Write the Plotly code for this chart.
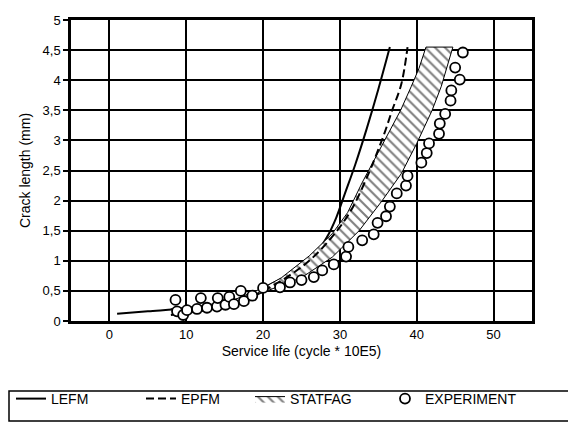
import plotly.graph_objects as go

# ---------------- data ----------------
x_tick_vals = [0, 10, 20, 30, 40, 50]
x_tick_text = ["0", "10", "20", "30", "40", "50"]
y_tick_vals = [0, 0.5, 1, 1.5, 2, 2.5, 3, 3.5, 4, 4.5, 5]
y_tick_text = ["0", "0,5", "1", "1,5", "2", "2,5", "3", "3,5", "4", "4,5", "5"]

lefm_x = [1, 5, 10, 15, 18, 20.7, 23.8, 26.5, 28.3, 29.5, 30.6, 32, 33.5, 35, 36.5]
lefm_y = [0.12, 0.16, 0.21, 0.3, 0.42, 0.59, 0.80, 1.06, 1.39, 1.71, 2.1, 2.6, 3.2, 3.85, 4.55]

epfm_x = [8, 12, 16, 20, 23, 26, 29, 31.5, 33.8, 35, 35.8, 36.8, 38, 38.8]
epfm_y = [0.1, 0.17, 0.28, 0.5, 0.72, 1.0, 1.4, 1.85, 2.47, 2.85, 3.12, 3.5, 3.94, 4.55]

statfag_left_x = [8, 12, 16, 20, 22.4, 26, 29, 31, 32.9, 34.8, 36.4, 37.9, 39.3, 40.3, 41.2]
statfag_left_y = [0.2, 0.25, 0.34, 0.55, 0.72, 1.08, 1.45, 1.8, 2.3, 2.75, 3.12, 3.5, 3.9, 4.2, 4.55]
statfag_right_x = [9, 12, 16, 20.5, 25, 29, 32.5, 35.5, 38, 40, 42, 43.2, 44.7]
statfag_right_y = [0.12, 0.16, 0.26, 0.5, 0.72, 1.06, 1.5, 2.0, 2.45, 2.95, 3.5, 3.9, 4.55]

exp_x = [8.6, 8.8, 9.6, 10.1, 11.4, 11.9, 12.7, 14.0, 14.1, 15.1, 15.6, 16.2, 17.1, 17.5,
         18.6, 20.0, 22.2, 23.5, 25.0, 26.6, 27.7, 29.2, 30.8, 31.1, 32.9, 34.4, 34.9,
         36.0, 36.5, 37.4, 38.6, 38.8, 40.6, 41.3, 41.6, 42.9, 43.0, 43.7, 44.4, 44.5,
         45.6, 45.0, 46.0]
exp_y = [0.35, 0.16, 0.1, 0.18, 0.2, 0.38, 0.22, 0.24, 0.38, 0.27, 0.4, 0.28, 0.5, 0.33,
         0.42, 0.55, 0.56, 0.64, 0.68, 0.73, 0.84, 0.94, 1.07, 1.23, 1.34, 1.44, 1.63,
         1.74, 1.9, 2.12, 2.25, 2.41, 2.63, 2.79, 2.95, 3.11, 3.28, 3.44, 3.66, 3.83,
         4.01, 4.21, 4.46]

# ---------------- figure ----------------
FONT = "Liberation Sans, Arial, sans-serif"
W, H = 576, 428
OFF = 8  # page body margin offset
ML, MT = 71 - OFF, 20 - OFF
PW, PH = 461, 301
MR, MB = W - ML - PW, H - MT - PH
fig = go.Figure()

band_x = statfag_left_x + statfag_right_x[::-1] + [statfag_left_x[0]]
band_y = statfag_left_y + statfag_right_y[::-1] + [statfag_left_y[0]]
fig.add_trace(go.Scatter(
    x=lefm_x, y=lefm_y, mode="lines", name="LEFM",
    line=dict(color="black", width=2, shape="spline"), legend="legend",
))
fig.add_trace(go.Scatter(
    x=band_x, y=band_y, mode="lines", fill="toself", name="STATFAG",
    line=dict(color="black", width=1),
    fillcolor="white",
    fillpattern=dict(shape="\\", fgcolor="black", bgcolor="white", size=7, solidity=0.3),
    legend="legend3",
))
fig.add_trace(go.Scatter(
    x=epfm_x, y=epfm_y, mode="lines", name="EPFM",
    line=dict(color="black", width=2, dash="8px,4px", shape="spline"), legend="legend2",
))
fig.add_trace(go.Scatter(
    x=exp_x, y=exp_y, mode="markers", name="EXPERIMENT",
    marker=dict(symbol="circle", size=10, color="white",
                line=dict(color="black", width=1.8)),
    legend="legend4",
))

axis_common = dict(
    showgrid=True, gridcolor="black", gridwidth=2,
    showline=True, linecolor="black", linewidth=2.5, mirror=True,
    zeroline=False, tickfont=dict(size=13, color="black"), automargin=False,
)

LEG_Y = 399 - OFF

def leg(px_left):
    return dict(orientation="h", xref="container", yref="container",
                x=px_left / W, y=1 - LEG_Y / H, xanchor="left", yanchor="middle",
                borderwidth=0, bgcolor="rgba(0,0,0,0)",
                font=dict(size=14, color="black"))

# legend frame (decoration)
fig.add_shape(type="rect", xref="paper", yref="paper",
              x0=(1 - ML) / PW, x1=(590 - ML) / PW,
              y0=(MT + PH - (421 - OFF)) / PH, y1=(MT + PH - (391 - OFF)) / PH,
              line=dict(color="black", width=1.5), fillcolor="rgba(0,0,0,0)")

fig.update_layout(
    width=W, height=H, showlegend=True,
    margin=dict(l=ML, r=MR, t=MT, b=MB, autoexpand=False),
    paper_bgcolor="white", plot_bgcolor="white",
    font=dict(family=FONT, size=14, color="black"),
    xaxis=dict(range=[-5, 55], tickvals=x_tick_vals, ticktext=x_tick_text,
               ticks="", ticklen=0, ticklabelstandoff=0,
               title=dict(text="Service life (cycle * 10E5)", standoff=5,
                          font=dict(size=14)),
               **axis_common),
    yaxis=dict(range=[0, 5], tickvals=y_tick_vals, ticktext=y_tick_text,
               ticks="outside", ticklen=5, tickwidth=2, tickcolor="black",
               title=dict(text="Crack length (mm)", standoff=9, font=dict(size=14)),
               **axis_common),
    legend=leg(3),
    legend2=leg(133),
    legend3=leg(242),
    legend4=leg(377),
)

fig.write_html("out.html")
